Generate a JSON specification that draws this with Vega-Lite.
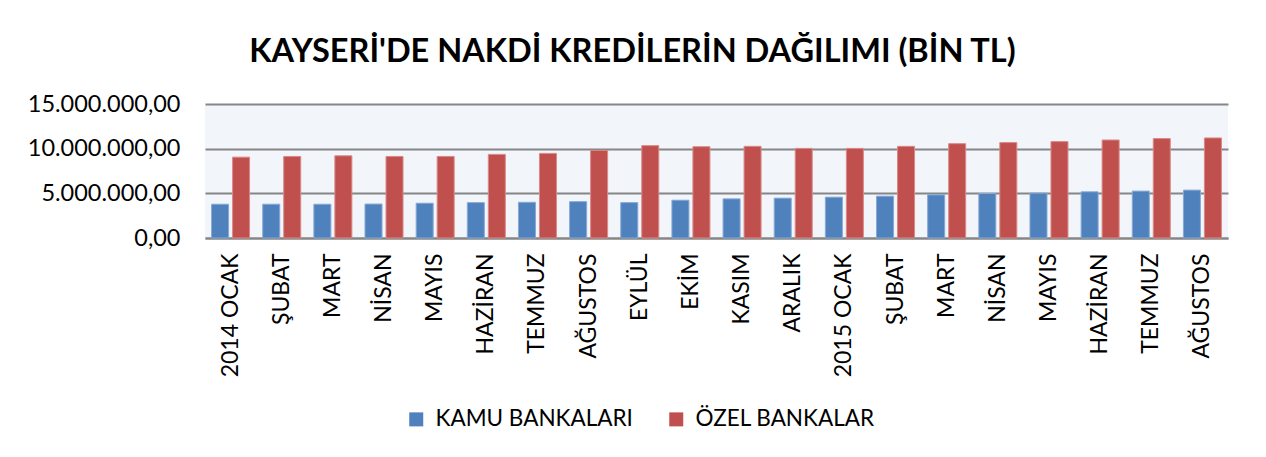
{
  "$schema": "https://vega.github.io/schema/vega-lite/v6.json",
  "autosize": {"type": "none"},
  "padding": {"left": 205, "top": 104, "right": 38, "bottom": 219},
  "width": 1023,
  "height": 134,
  "background": "white",
  "title": {
    "text": "KAYSERİ'DE NAKDİ KREDİLERİN DAĞILIMI (BİN TL)",
    "font": "Lato",
    "fontSize": 32.5,
    "fontWeight": "bold",
    "color": "#000000",
    "anchor": "middle",
    "dx": -84,
    "offset": 24
  },
  "config": {
    "locale": {"number": {"decimal": ",", "thousands": ".", "grouping": [3], "currency": ["", ""]}},
    "view": {"fill": "#f2f5fa", "stroke": null},
    "font": "Lato"
  },
  "data": {
    "values": [
      {"donem": "2014 OCAK", "banka": "KAMU BANKALARI", "tutar": 3780000},
      {"donem": "2014 OCAK", "banka": "ÖZEL BANKALAR", "tutar": 9050000},
      {"donem": "2014 ŞUBAT", "banka": "KAMU BANKALARI", "tutar": 3780000},
      {"donem": "2014 ŞUBAT", "banka": "ÖZEL BANKALAR", "tutar": 9130000},
      {"donem": "2014 MART", "banka": "KAMU BANKALARI", "tutar": 3780000},
      {"donem": "2014 MART", "banka": "ÖZEL BANKALAR", "tutar": 9200000},
      {"donem": "2014 NİSAN", "banka": "KAMU BANKALARI", "tutar": 3800000},
      {"donem": "2014 NİSAN", "banka": "ÖZEL BANKALAR", "tutar": 9130000},
      {"donem": "2014 MAYIS", "banka": "KAMU BANKALARI", "tutar": 3890000},
      {"donem": "2014 MAYIS", "banka": "ÖZEL BANKALAR", "tutar": 9130000},
      {"donem": "2014 HAZİRAN", "banka": "KAMU BANKALARI", "tutar": 3960000},
      {"donem": "2014 HAZİRAN", "banka": "ÖZEL BANKALAR", "tutar": 9360000},
      {"donem": "2014 TEMMUZ", "banka": "KAMU BANKALARI", "tutar": 4000000},
      {"donem": "2014 TEMMUZ", "banka": "ÖZEL BANKALAR", "tutar": 9470000},
      {"donem": "2014 AĞUSTOS", "banka": "KAMU BANKALARI", "tutar": 4070000},
      {"donem": "2014 AĞUSTOS", "banka": "ÖZEL BANKALAR", "tutar": 9810000},
      {"donem": "2014 EYLÜL", "banka": "KAMU BANKALARI", "tutar": 3960000},
      {"donem": "2014 EYLÜL", "banka": "ÖZEL BANKALAR", "tutar": 10340000},
      {"donem": "2014 EKİM", "banka": "KAMU BANKALARI", "tutar": 4230000},
      {"donem": "2014 EKİM", "banka": "ÖZEL BANKALAR", "tutar": 10220000},
      {"donem": "2014 KASIM", "banka": "KAMU BANKALARI", "tutar": 4380000},
      {"donem": "2014 KASIM", "banka": "ÖZEL BANKALAR", "tutar": 10260000},
      {"donem": "2014 ARALIK", "banka": "KAMU BANKALARI", "tutar": 4460000},
      {"donem": "2014 ARALIK", "banka": "ÖZEL BANKALAR", "tutar": 10030000},
      {"donem": "2015 OCAK", "banka": "KAMU BANKALARI", "tutar": 4570000},
      {"donem": "2015 OCAK", "banka": "ÖZEL BANKALAR", "tutar": 10030000},
      {"donem": "2015 ŞUBAT", "banka": "KAMU BANKALARI", "tutar": 4680000},
      {"donem": "2015 ŞUBAT", "banka": "ÖZEL BANKALAR", "tutar": 10260000},
      {"donem": "2015 MART", "banka": "KAMU BANKALARI", "tutar": 4830000},
      {"donem": "2015 MART", "banka": "ÖZEL BANKALAR", "tutar": 10560000},
      {"donem": "2015 NİSAN", "banka": "KAMU BANKALARI", "tutar": 4980000},
      {"donem": "2015 NİSAN", "banka": "ÖZEL BANKALAR", "tutar": 10680000},
      {"donem": "2015 MAYIS", "banka": "KAMU BANKALARI", "tutar": 5020000},
      {"donem": "2015 MAYIS", "banka": "ÖZEL BANKALAR", "tutar": 10790000},
      {"donem": "2015 HAZİRAN", "banka": "KAMU BANKALARI", "tutar": 5170000},
      {"donem": "2015 HAZİRAN", "banka": "ÖZEL BANKALAR", "tutar": 10970000},
      {"donem": "2015 TEMMUZ", "banka": "KAMU BANKALARI", "tutar": 5250000},
      {"donem": "2015 TEMMUZ", "banka": "ÖZEL BANKALAR", "tutar": 11130000},
      {"donem": "2015 AĞUSTOS", "banka": "KAMU BANKALARI", "tutar": 5360000},
      {"donem": "2015 AĞUSTOS", "banka": "ÖZEL BANKALAR", "tutar": 11200000}
    ]
  },
  "mark": {"type": "bar", "strokeWidth": 1},
  "encoding": {
    "x": {
      "field": "donem",
      "type": "nominal",
      "sort": null,
      "scale": {"paddingInner": 0.257, "paddingOuter": 0.1285},
      "axis": {
        "title": null,
        "labelAngle": -90,
        "labelAlign": "right",
        "labelBaseline": "middle",
        "labelFont": "Lato",
        "labelFontSize": 23,
        "labelColor": "#000000",
        "labelPadding": 15,
        "labelLimit": 0,
        "labelExpr": "indexof(datum.value, 'OCAK') >= 0 ? datum.value : substring(datum.value, 5)",
        "ticks": false,
        "domain": true,
        "domainColor": "#868686",
        "domainWidth": 2,
        "grid": false
      }
    },
    "xOffset": {
      "field": "banka",
      "type": "nominal",
      "sort": ["KAMU BANKALARI", "ÖZEL BANKALAR"],
      "scale": {"paddingInner": 0.19, "paddingOuter": 0}
    },
    "y": {
      "field": "tutar",
      "type": "quantitative",
      "scale": {"domain": [0, 15000000], "nice": false},
      "axis": {
        "title": null,
        "values": [0, 5000000, 10000000, 15000000],
        "format": ",.2f",
        "labelFont": "Lato",
        "labelFontSize": 23.5,
        "labelColor": "#000000",
        "labelPadding": 25,
        "labelLimit": 0,
        "ticks": false,
        "domain": false,
        "grid": true,
        "gridColor": "#868686",
        "gridWidth": 2
      }
    },
    "color": {
      "field": "banka",
      "type": "nominal",
      "sort": ["KAMU BANKALARI", "ÖZEL BANKALAR"],
      "scale": {"domain": ["KAMU BANKALARI", "ÖZEL BANKALAR"], "range": ["#4F81BD", "#C0504D"]},
      "legend": {
        "title": null,
        "orient": "none",
        "direction": "horizontal",
        "legendX": 200,
        "legendY": 304,
        "symbolType": "square",
        "symbolSize": 196,
        "symbolStrokeWidth": 0,
        "labelFont": "Lato",
        "labelFontSize": 22.5,
        "labelColor": "#000000",
        "labelOffset": 8,
        "labelLimit": 0,
        "columnPadding": 32,
        "padding": 0
      }
    },
    "stroke": {
      "condition": {"test": "datum.banka === 'KAMU BANKALARI'", "value": "#86a9d6"},
      "value": "#d98a88"
    }
  }
}
